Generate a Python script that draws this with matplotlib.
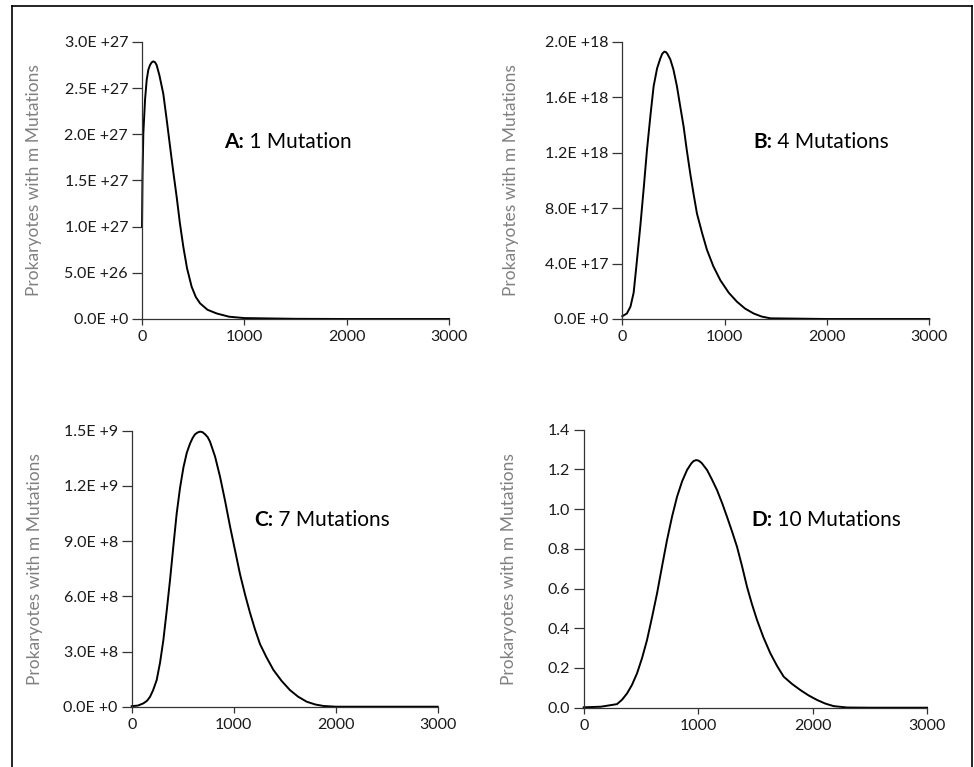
import numpy as np
import matplotlib
matplotlib.use("Agg")
import matplotlib.pyplot as plt
from matplotlib.lines import Line2D

plt.rcParams['font.family'] = ['Lato', 'DejaVu Sans']

# values
xa = [0, 5, 13, 30, 46, 62, 78, 95, 110, 128, 143, 170, 208, 240, 274, 305, 339, 370, 404, 440, 485, 525, 567, 640, 730, 850, 1000, 1500, 2000, 2500, 3000]
ya = [1.00e27, 1.55e27, 2.01e27, 2.38e27, 2.59e27, 2.70e27, 2.75e27, 2.78e27, 2.79e27, 2.78e27, 2.75e27, 2.64e27, 2.44e27, 2.17e27, 1.87e27, 1.60e27, 1.32e27, 1.04e27, 0.78e27, 0.55e27, 0.35e27, 0.24e27, 0.17e27, 0.10e27, 0.06e27, 0.025e27, 0.01e27, 0.002e27, 0, 0, 0]

xb = [0, 45, 80, 111, 140, 176, 210, 241, 275, 306, 340, 371, 390, 410, 425, 440, 469, 500, 534, 565, 599, 630, 664, 697, 730, 780, 827, 890, 958, 1040, 1120, 1200, 1283, 1360, 1446, 2000, 2500, 3000]
yb = [0.02e18, 0.04e18, 0.09e18, 0.19e18, 0.40e18, 0.67e18, 0.95e18, 1.22e18, 1.47e18, 1.68e18, 1.81e18, 1.88e18, 1.915e18, 1.93e18, 1.928e18, 1.915e18, 1.875e18, 1.80e18, 1.68e18, 1.54e18, 1.39e18, 1.22e18, 1.05e18, 0.90e18, 0.76e18, 0.62e18, 0.50e18, 0.38e18, 0.28e18, 0.19e18, 0.125e18, 0.075e18, 0.04e18, 0.018e18, 0.005e18, 0, 0, 0]

xc = [0, 60, 114, 150, 180, 210, 245, 278, 310, 343, 376, 408, 441, 474, 507, 540, 572, 597, 620, 645, 670, 695, 720, 745, 768, 817, 866, 915, 964, 1013, 1062, 1111, 1160, 1209, 1258, 1320, 1389, 1470, 1552, 1630, 1716, 1800, 1879, 2000, 2500, 3000]
yc = [0.003e9, 0.006e9, 0.018e9, 0.032e9, 0.054e9, 0.09e9, 0.145e9, 0.24e9, 0.36e9, 0.52e9, 0.69e9, 0.87e9, 1.05e9, 1.19e9, 1.30e9, 1.38e9, 1.43e9, 1.46e9, 1.48e9, 1.49e9, 1.495e9, 1.492e9, 1.48e9, 1.465e9, 1.44e9, 1.36e9, 1.25e9, 1.12e9, 0.98e9, 0.85e9, 0.72e9, 0.61e9, 0.51e9, 0.42e9, 0.34e9, 0.27e9, 0.20e9, 0.14e9, 0.09e9, 0.055e9, 0.027e9, 0.012e9, 0.004e9, 0, 0, 0]

xd = [0, 150, 291, 335, 379, 422, 466, 510, 553, 597, 641, 684, 728, 772, 816, 860, 903, 940, 960, 982, 1005, 1030, 1078, 1120, 1165, 1210, 1252, 1296, 1340, 1384, 1427, 1470, 1515, 1570, 1631, 1690, 1748, 1820, 1893, 1965, 2039, 2110, 2184, 2301, 2500, 3000]
yd = [0.002, 0.005, 0.018, 0.040, 0.072, 0.115, 0.173, 0.250, 0.340, 0.455, 0.576, 0.710, 0.844, 0.962, 1.063, 1.140, 1.197, 1.230, 1.242, 1.247, 1.244, 1.233, 1.197, 1.150, 1.096, 1.030, 0.962, 0.888, 0.810, 0.712, 0.609, 0.522, 0.441, 0.355, 0.274, 0.210, 0.156, 0.120, 0.089, 0.062, 0.039, 0.021, 0.008, 0.001, 0, 0]

ticks_a = [0, 0.5e27, 1.0e27, 1.5e27, 2.0e27, 2.5e27, 3.0e27]
labels_a = ['0.0E +0', '5.0E +26', '1.0E +27', '1.5E +27', '2.0E +27', '2.5E +27', '3.0E +27']
ticks_b = [0, 0.4e18, 0.8e18, 1.2e18, 1.6e18, 2.0e18]
labels_b = ['0.0E +0', '4.0E +17', '8.0E +17', '1.2E +18', '1.6E +18', '2.0E +18']
ticks_c = [0, 0.3e9, 0.6e9, 0.9e9, 1.2e9, 1.5e9]
labels_c = ['0.0E +0', '3.0E +8', '6.0E +8', '9.0E +8', '1.2E +9', '1.5E +9']
ticks_d = [0, 0.2, 0.4, 0.6, 0.8, 1.0, 1.2, 1.4]
labels_d = ['0.0', '0.2', '0.4', '0.6', '0.8', '1.0', '1.2', '1.4']

xticks = [0, 1000, 2000, 3000]
ylabel = 'Prokaryotes with m Mutations'

W, H = 974, 767
fig = plt.figure(figsize=(W / 100, H / 100), dpi=100)

# (x0, x1, y0, y_top) in pixels, label x in pixels, text pos in pixels
panels = [
    (xa, ya, ticks_a, labels_a, (142, 449, 319, 42), 42, (224, 142), 'A:', ' 1 Mutation'),
    (xb, yb, ticks_b, labels_b, (622.3, 929.3, 319, 42), 519, (753, 142), 'B:', ' 4 Mutations'),
    (xc, yc, ticks_c, labels_c, (131.7, 437.7, 706.7, 430.7), 43, (254, 520), 'C:', ' 7 Mutations'),
    (xd, yd, ticks_d, labels_d, (583.7, 927, 707.7, 429.7), 517, (751, 520), 'D:', ' 10 Mutations'),
]

for x, y, yt, yl, box, lab_x, tpos, bold, rest in panels:
    x0, x1, y0, yt_px = box
    ax = fig.add_axes([x0 / W, 1 - y0 / H, (x1 - x0) / W, (y0 - yt_px) / H])
    ax.plot(x, y, color='black', lw=1.4, clip_on=False)
    ax.set_xlim(0, 3000)
    ax.set_ylim(0, yt[-1])
    ax.set_xticks(xticks)
    ax.set_xticklabels([str(v) for v in xticks])
    ax.set_yticks(yt)
    ax.set_yticklabels(yl)
    for s in ['top', 'right']:
        ax.spines[s].set_visible(False)
    for s in ['left', 'bottom']:
        ax.spines[s].set_color('#333333')
        ax.spines[s].set_linewidth(0.9)
    ax.tick_params(axis='y', length=7, width=0.9, color='#333333', pad=3, labelsize=11.5, labelcolor='#1a1a1a')
    ax.tick_params(axis='x', length=4, width=0.9, color='#333333', pad=4, labelsize=11.5, labelcolor='#1a1a1a')
    ax.set_ylabel(ylabel, color='#808080', fontsize=12.5)
    ax.yaxis.set_label_coords((lab_x - x0) / (x1 - x0), 0.5)
    ax.patch.set_visible(False)

    t1 = fig.text(tpos[0] / W, 1 - tpos[1] / H, bold, fontsize=15, fontweight='bold', va='center', ha='left')
    ax.annotate(rest, xy=(1, 0), xycoords=t1, va='bottom', ha='left', fontsize=15)

# frame around the figure
fig.add_artist(Line2D([12 / W, 12 / W], [0, 1 - 6 / H], color='black', lw=1.2))
fig.add_artist(Line2D([12 / W, 972 / W], [1 - 6 / H, 1 - 6 / H], color='black', lw=1.2))
fig.add_artist(Line2D([972 / W, 972 / W], [0, 1 - 6 / H], color='black', lw=1.2))

fig.savefig('out.png', dpi=100)
